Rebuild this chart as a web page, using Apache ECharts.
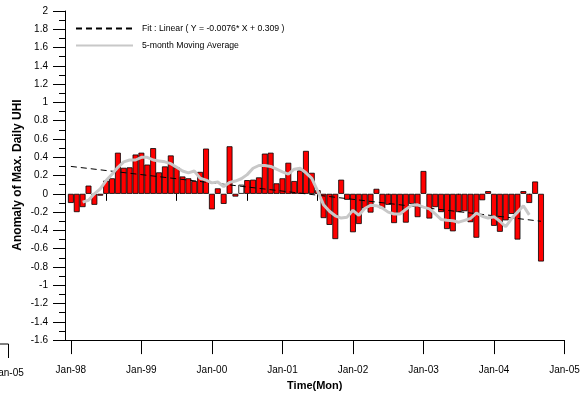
<!DOCTYPE html>
<html>
<head>
<meta charset="utf-8">
<script src="https://cdn.jsdelivr.net/npm/echarts@6/dist/echarts.min.js"></script>
<style>
html,body{margin:0;padding:0;background:#fff;}
#chart{width:585px;height:396px;}
</style>
</head>
<body>
<div id="chart"></div>
<script>
// Monthly anomaly, Jan-98 .. Sep-04 (month index 1 = Jan-98)
var anomaly = [
  -0.10, -0.20, -0.145, 0.09, -0.12, -0.02, 0.145, 0.17, 0.45, 0.285, 0.29, 0.43,
  0.45, 0.32, 0.50, 0.235, 0.30, 0.42, 0.29, 0.19, 0.17, 0.14, 0.24, 0.495,
  -0.17, 0.06, -0.11, 0.52, -0.03, 0.10, 0.15, 0.155, 0.18, 0.44, 0.45, 0.115,
  0.17, 0.34, 0.14, 0.255, 0.47, 0.23, 0.04, -0.265, -0.34, -0.495, 0.155, -0.065,
  -0.42, -0.33, -0.16, -0.205, 0.055, -0.16, -0.12, -0.32, -0.22, -0.315, -0.11, -0.255,
  0.25, -0.27, -0.145, -0.2, -0.385, -0.41, -0.2, -0.19, -0.31, -0.48, -0.07, 0.03,
  -0.35, -0.415, -0.29, -0.22, -0.5, 0.03, -0.1, 0.135, -0.74
];
// months drawn with white fill (as seen in the picture)
var whiteMonths = [30];
// 5-month moving average, months 3 .. 79
var maStart = 3;
var movingAvg = [
  -0.09, -0.07, 0.0, 0.055, 0.145, 0.215, 0.29, 0.35, 0.37, 0.37,
  0.40, 0.40, 0.37, 0.36, 0.35, 0.33, 0.29, 0.25, 0.23, 0.25,
  0.17, 0.15, 0.12, 0.13, 0.08, 0.125, 0.14, 0.165, 0.21, 0.28,
  0.31, 0.31, 0.30, 0.27, 0.24, 0.215, 0.27, 0.28, 0.23, 0.17,
  0.03, -0.12, -0.19, -0.24, -0.265, -0.255, -0.18, -0.235, -0.16, -0.125,
  -0.13, -0.155, -0.2, -0.22, -0.22, -0.17, -0.125, -0.12, -0.145, -0.165,
  -0.22, -0.28, -0.29, -0.295, -0.31, -0.29, -0.27, -0.21, -0.245, -0.265,
  -0.25, -0.3, -0.36, -0.27, -0.2, -0.13, -0.23
];
// Linear fit end points (month, value)
var fitMonths = [1, 81];
var fitValues = [0.30, -0.30];
// X tick labels at months 1, 13, ... 85
var tickMonths = [1, 13, 25, 37, 49, 61, 73, 85];
var tickLabels = ['Jan-98', 'Jan-99', 'Jan-00', 'Jan-01', 'Jan-02', 'Jan-03', 'Jan-04', 'Jan-05'];
var halfYearMonths = [7, 19, 31, 43, 55, 67, 79];
var lastMonth = 85; // axis runs from month 0 (Dec-97) to 85 (Jan-05)

var FONT = "'Liberation Sans', Arial, sans-serif";

var months = [];
for (var m = 0; m <= lastMonth; m++) months.push(String(m));

var barData = months.map(function (s, idx) {
  if (idx < 1 || idx > anomaly.length) return '-';
  var d = { value: anomaly[idx - 1] };
  if (whiteMonths.indexOf(idx) >= 0) d.itemStyle = { color: '#ffffff' };
  return d;
});
var maData = movingAvg.map(function (v, i) { return [maStart + i, v]; });
var fitData = fitMonths.map(function (mm, i) { return [mm, fitValues[i]]; });

var chart = echarts.init(document.getElementById('chart'), null, { renderer: 'canvas' });
chart.setOption({
  animation: false,
  backgroundColor: '#ffffff',
  grid: { left: 65, right: 20.5, top: 11, bottom: 53, containLabel: false },
  legend: {
    data: ['Fit : Linear ( Y = -0.0076* X + 0.309 )', '5-month Moving Average'],
    orient: 'vertical',
    left: 75, top: 24, padding: 0,
    itemWidth: 57, itemHeight: 10, itemGap: 8,
    itemStyle: { opacity: 0, borderWidth: 0 },
    textStyle: { fontFamily: FONT, fontSize: 8.7, color: '#000', padding: [0, 0, 0, 4] }
  },
  xAxis: [{
    type: 'category', data: months, boundaryGap: false,
    splitLine: { show: false },
    axisLine: { show: true, onZero: false, lineStyle: { color: '#000', width: 1 } },
    axisTick: {
      show: true, inside: false, length: 14, lineStyle: { color: '#000' },
      interval: function (i) { return tickMonths.indexOf(i) >= 0; }
    },
    axisLabel: {
      show: true, margin: 25, fontFamily: FONT, fontSize: 10, color: '#000',
      interval: function (i) { return tickMonths.indexOf(i) >= 0; },
      formatter: function (v, i) { var k = tickMonths.indexOf(i); return k >= 0 ? tickLabels[k] : ''; }
    },
    name: 'Time(Mon)', nameLocation: 'middle', nameGap: 36,
    nameTextStyle: { fontFamily: FONT, fontSize: 11, fontWeight: 'bold', color: '#000' }
  }, {
    type: 'category', data: months, boundaryGap: false, position: 'bottom',
    splitLine: { show: false },
    axisLine: { show: false },
    axisTick: {
      show: true, inside: false, length: 7, lineStyle: { color: '#000' },
      interval: function (i) { return halfYearMonths.indexOf(i) >= 0; }
    },
    axisLabel: { show: false }
  }],
  yAxis: {
    type: 'value', min: -1.6, max: 2, interval: 0.2,
    splitLine: { show: false },
    axisLine: { show: true, onZero: false, lineStyle: { color: '#000', width: 1 } },
    axisTick: { show: true, inside: false, length: 12, lineStyle: { color: '#000' } },
    minorTick: { show: true, splitNumber: 2, length: 6, lineStyle: { color: '#000' } },
    axisLabel: {
      margin: 17, fontFamily: FONT, fontSize: 10, color: '#000',
      formatter: function (v) { return String(Math.round(v * 10) / 10); }
    }
  },
  series: [{
    name: 'Anomaly', type: 'bar', xAxisIndex: 0,
    data: barData, barCategoryGap: '0%',
    itemStyle: { color: '#ff0000', borderColor: '#000', borderWidth: 0.8 },
    z: 2
  }, {
    name: 'Fit : Linear ( Y = -0.0076* X + 0.309 )', type: 'line', xAxisIndex: 0,
    data: fitData, symbol: 'none',
    lineStyle: { color: '#000', width: 1, type: [6, 4] },
    itemStyle: { color: '#000' },
    z: 3
  }, {
    name: '5-month Moving Average', type: 'line', xAxisIndex: 0,
    data: maData, symbol: 'none',
    lineStyle: { color: '#c8c8c8', width: 3 },
    itemStyle: { color: '#c8c8c8' },
    z: 4
  }],
  graphic: [{
    type: 'text', x: 17.5, y: 175, rotation: Math.PI / 2,
    style: { text: 'Anomaly of Max. Daily UHI', font: 'bold 12px ' + FONT, fill: '#000', align: 'center', verticalAlign: 'middle' }
  }, {
    type: 'polyline', shape: { points: [[0, 344], [8.5, 344], [8.5, 358]] },
    style: { stroke: '#000', lineWidth: 1, fill: null }
  }, {
    type: 'text', x: 8.5, y: 373.5,
    style: { text: 'Jan-05', font: '10px ' + FONT, fill: '#000', align: 'center', verticalAlign: 'middle' }
  }]
});
</script>
</body>
</html>
